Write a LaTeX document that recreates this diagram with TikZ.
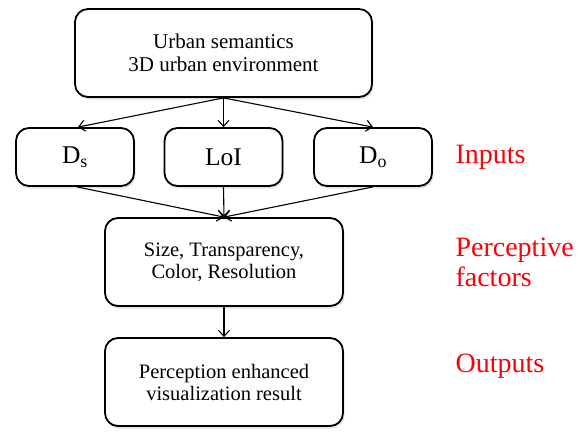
\documentclass[tikz,border=0pt]{standalone}
\usepackage{fontspec}
\setmainfont{Liberation Serif}
\usetikzlibrary{arrows.meta,shadows,calc}
\definecolor{labelred}{RGB}{250,0,10}
\tikzset{
  box/.style={draw, line width=1.8pt, rounded corners=13pt, fill=white, align=center,
    drop shadow={opacity=0.22, shadow xshift=1.5pt, shadow yshift=-2.5pt}},
  bigbox/.style={box, minimum width=297pt, minimum height=88pt,
    font=\fontsize{21}{23}\selectfont},
  inbox/.style={box, minimum width=118pt, minimum height=58pt,
    font=\fontsize{25.5}{28}\selectfont},
  midbox/.style={box, minimum width=238pt, minimum height=88pt,
    font=\fontsize{20.5}{22}\selectfont},
  flow/.style={line width=1.1pt, -{Straight Barb[length=6pt,width=11pt]}},
  tag/.style={text=labelred, anchor=west, align=left, font=\fontsize{28}{30}\selectfont}
}
\begin{document}
\begin{tikzpicture}[x=1pt,y=-1pt]
  \useasboundingbox (0,0) rectangle (588,431);

  % semantic source
  \node[bigbox] (env) at (223.5,53) {Urban semantics\\3D urban environment};

  % input parameters
  \node[inbox] (ds)  at (75,157)    {D\textsubscript{s}};
  \node[inbox] (loi) at (223.5,157) {LoI};
  \node[inbox] (do)  at (373,157)   {D\textsubscript{o}};

  % perceptive factors and result
  \node[midbox] (fac) at (224,262) {Size, Transparency,\\Color, Resolution};
  \node[midbox] (res) at (224,382) {Perception enhanced\\visualization result};

  % connectors
  \draw[flow] (env.south) -- ($(ds.north)+(3,0)$);
  \draw[flow] (env.south) -- (loi.north);
  \draw[flow] (env.south) -- (do.north);
  \draw[flow] ($(ds.south)+(2,0)$) -- (fac.north);
  \draw[flow] (loi.south) -- (fac.north);
  \draw[flow] (do.south) -- (fac.north);
  \draw[flow] (fac.south) -- (res.north);

  % stage labels
  \node[tag] (lin)  at (452,157) {Inputs};
  \node[tag] (lper) at (452,262) {Perceptive\\factors};
  \node[tag] (lout) at (452,366) {Outputs};
\end{tikzpicture}
\end{document}
